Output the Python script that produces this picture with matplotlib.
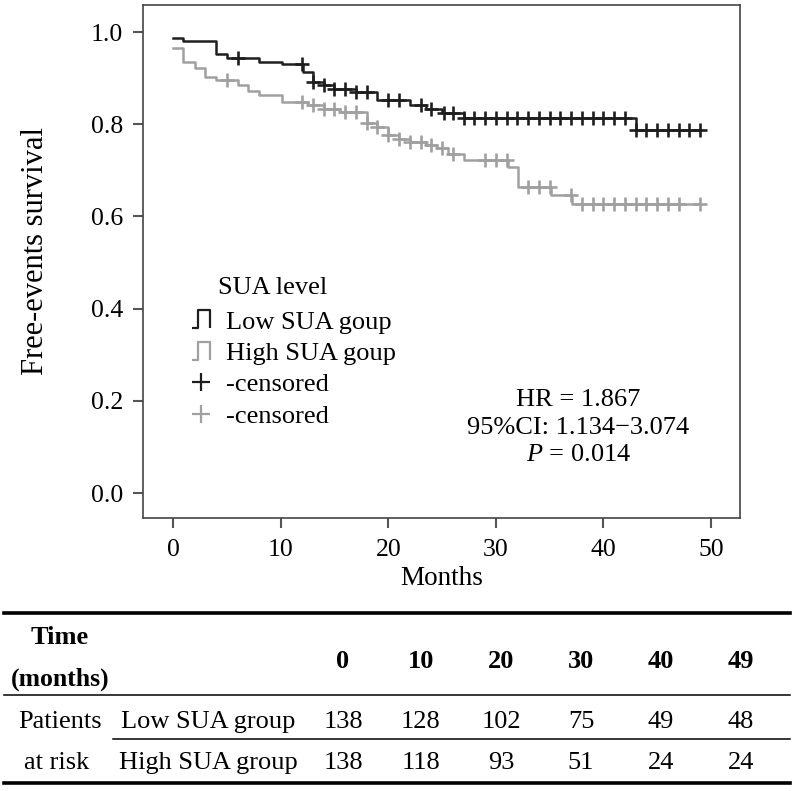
import numpy as np
import matplotlib
matplotlib.use("Agg")
import matplotlib.pyplot as plt
from matplotlib.lines import Line2D
from matplotlib.path import Path

plt.rcParams['font.family'] = ['Liberation Serif', 'DejaVu Serif']
plt.rcParams['mathtext.fontset'] = 'custom'
plt.rcParams['mathtext.rm'] = 'Liberation Serif'
plt.rcParams['mathtext.it'] = 'Liberation Serif:italic'

# Low SUA group: step times and survival after each step
low_times = [0, 0.9, 4.0, 5.0, 8.0, 10.1, 12.1, 13.0, 14.0, 15.0, 17.0, 19.0, 22.0, 23.5, 25.0, 27.0, 43.0]
low_surv = [0.988, 0.980, 0.952, 0.944, 0.936, 0.931, 0.914, 0.892, 0.885, 0.876, 0.869, 0.853,
            0.842, 0.832, 0.824, 0.813, 0.787]
low_censor = [6, 12, 13, 14, 15, 16, 17, 18, 20, 21, 23, 24, 25.2, 26, 27, 28, 29, 30, 31, 32, 33, 34,
              35, 36, 37, 38, 39, 40, 41, 42, 43, 44, 45, 46, 47, 48, 49]

# High SUA group
high_times = [0, 0.9, 2.0, 3.0, 4.0, 6.0, 7.0, 8.0, 10.1, 12.5, 14.0, 15.5, 18.0, 19.0, 20.0, 21.0,
              22.0, 23.5, 24.5, 25.6, 27.0, 31.1, 32.1, 35.1, 37.1]
high_surv = [0.965, 0.936, 0.921, 0.903, 0.896, 0.885, 0.871, 0.863, 0.849, 0.842, 0.834, 0.827,
             0.802, 0.795, 0.777, 0.769, 0.762, 0.755, 0.748, 0.735, 0.722, 0.708, 0.663, 0.646, 0.627]
high_censor = [5, 12, 13, 14, 15, 16, 17, 18, 19, 20, 21, 22, 23, 24, 25, 26, 29, 30, 31, 33, 34, 35,
               37, 38, 39, 40, 41, 42, 43, 44, 45, 46, 47, 49]

end_time = 49

# risk table
risk_times = ['0', '10', '20', '30', '40', '49']
low_at_risk = [138, 128, 102, 75, 49, 48]
high_at_risk = [138, 118, 93, 51, 24, 24]

low_col = '#1e1e1e'
high_col = '#a0a0a0'


def surv_at(times, surv, t):
    idx = np.searchsorted(np.array(times), np.array(t), side='right') - 1
    return np.array(surv)[idx]


fig = plt.figure(figsize=(7.94, 7.91), dpi=100)
ax = fig.add_axes([143 / 794, 1 - 518 / 791, (740 - 143) / 794, (518 - 5) / 791])

for times, surv, cens, col in [(high_times, high_surv, high_censor, high_col),
                               (low_times, low_surv, low_censor, low_col)]:
    ax.step(list(times) + [end_time], list(surv) + [surv[-1]], where='post', color=col, lw=1.8)
    ax.plot(cens, surv_at(times, surv, cens), ls='none', marker='+', color=col,
            markersize=10, mew=1.9)

ax.set_xlim(-2.8, 52.7)
ax.set_ylim(-0.054, 1.0586)
ax.set_xticks(np.arange(0, 51, 10))
ax.set_yticks(np.arange(0, 1.01, 0.2))
ax.set_yticklabels(['%.1f' % v for v in np.arange(0, 1.01, 0.2)])
ax.tick_params(direction='out', length=7.2, width=1.5, color='#555555', labelsize=18.5, pad=7)
ax.tick_params(axis='x', pad=8)
for sp in ax.spines.values():
    sp.set_color('#444444')
    sp.set_linewidth(1.2)

ax.set_xlabel('Months', fontsize=19.5)
ax.xaxis.set_label_coords(0.5, -0.093)
ax.set_ylabel('Free-events survival', fontsize=22)
ax.yaxis.set_label_coords(-0.155, 0.52)

# legend
step_icon = Path([(-1, -1), (-0.35, -1), (-0.35, 1), (1, 1), (1, -1)],
                 [Path.MOVETO, Path.LINETO, Path.LINETO, Path.LINETO, Path.LINETO])
handles = [
    Line2D([], [], ls='none', marker=step_icon, markersize=12.5, markerfacecolor='none',
           markeredgecolor=low_col, mew=1.6),
    Line2D([], [], ls='none', marker=step_icon, markersize=12.5, markerfacecolor='none',
           markeredgecolor=high_col, mew=1.6),
    Line2D([], [], ls='none', marker='+', markersize=13, color=low_col, mew=1.6),
    Line2D([], [], ls='none', marker='+', markersize=13, color=high_col, mew=1.6),
]
labels = ['Low SUA goup', 'High SUA goup', '-censored', '-censored']
ax.legend(handles, labels, loc='upper left', bbox_to_anchor=(0.075, 0.405), frameon=False,
          fontsize=19, handlelength=1.0, handletextpad=0.45, labelspacing=0.3, borderpad=0,
          borderaxespad=0)
ax.text(0.126, 0.448, 'SUA level', transform=ax.transAxes, fontsize=19, ha='left', va='center')

ax.text(0.729, 0.176, 'HR = 1.867\n95%CI: 1.134\u22123.074\n$\\it{P}$ = 0.014',
        transform=ax.transAxes, fontsize=19, ha='center', va='center', multialignment='center',
        linespacing=1.32)

# risk table
W, H = 794.0, 791.0


def fx(px):
    return px / W


def fy(py):
    return 1 - py / H


fig.add_artist(Line2D([fx(4), fx(790)], [fy(613), fy(613)], color='black', lw=2.6))
fig.add_artist(Line2D([fx(4), fx(790)], [fy(695), fy(695)], color='black', lw=1.1))
fig.add_artist(Line2D([fx(113), fx(790)], [fy(739), fy(739)], color='black', lw=1.1))
fig.add_artist(Line2D([fx(4), fx(790)], [fy(783), fy(783)], color='black', lw=2.6))

fig.text(fx(60), fy(638), 'Time', fontsize=19, fontweight='bold', ha='center', va='center')
fig.text(fx(60), fy(679), '(months)', fontsize=18.5, fontweight='bold', ha='center', va='center')
fig.text(fx(60), fy(722), 'Patients', fontsize=19, ha='center', va='center')
fig.text(fx(57), fy(763), 'at risk', fontsize=19, ha='center', va='center')
fig.text(fx(208), fy(722), 'Low SUA group', fontsize=19, ha='center', va='center')
fig.text(fx(208), fy(763), 'High SUA group', fontsize=19, ha='center', va='center')

col_x = [343, 421, 501, 581, 661, 741]
for cx, t, lo, hi in zip(col_x, risk_times, low_at_risk, high_at_risk):
    fig.text(fx(cx), fy(662), t, fontsize=19, fontweight='bold', ha='center', va='center')
    fig.text(fx(cx), fy(722), str(lo), fontsize=19, ha='center', va='center')
    fig.text(fx(cx), fy(763), str(hi), fontsize=19, ha='center', va='center')

fig.savefig('out.png', dpi=100)
